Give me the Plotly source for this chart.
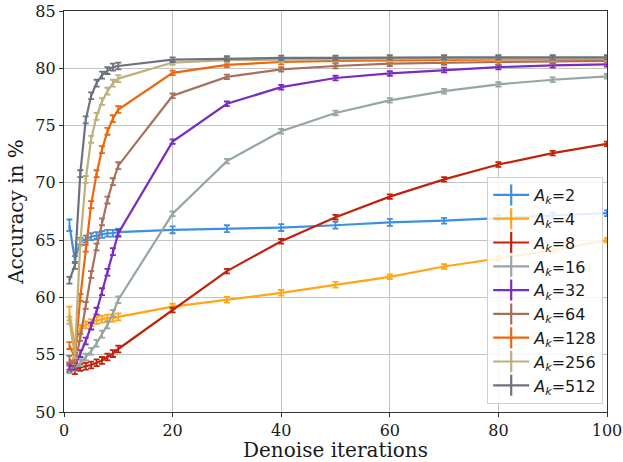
import plotly.graph_objects as go

iters = [1, 2, 3, 4, 5, 6, 7, 8, 9, 10, 20, 30, 40, 50, 60, 70, 80, 90, 100]

acc_2 = [66.3, 63.3, 64.9, 65.1, 65.3, 65.4, 65.5, 65.6, 65.6, 65.7, 65.9, 66.0, 66.1, 66.3, 66.55, 66.7, 66.95, 67.15, 67.35]
acc_4 = [58.6, 55.8, 57.3, 57.6, 57.8, 58.0, 58.1, 58.2, 58.2, 58.3, 59.2, 59.8, 60.4, 61.1, 61.8, 62.7, 63.4, 64.1, 65.0]
acc_8 = [53.8, 53.6, 53.9, 54.0, 54.1, 54.3, 54.5, 54.8, 55.1, 55.5, 58.9, 62.3, 64.9, 67.0, 68.8, 70.3, 71.6, 72.6, 73.4]
acc_16 = [53.7, 53.9, 54.3, 54.8, 55.3, 56.0, 56.8, 57.6, 58.6, 59.8, 67.3, 71.9, 74.5, 76.1, 77.2, 78.0, 78.6, 79.0, 79.3]
acc_32 = [54.0, 54.0, 55.1, 56.2, 57.5, 58.8, 60.5, 62.2, 64.0, 65.6, 73.6, 76.9, 78.35, 79.15, 79.55, 79.85, 80.1, 80.25, 80.35]
acc_64 = [54.6, 54.2, 56.5, 59.3, 62.0, 64.4, 66.6, 68.5, 70.1, 71.5, 77.6, 79.25, 79.9, 80.2, 80.4, 80.5, 80.55, 80.6, 80.65]
acc_128 = [55.8, 54.8, 60.0, 64.3, 68.1, 70.8, 72.9, 74.5, 75.6, 76.4, 79.6, 80.3, 80.55, 80.65, 80.7, 80.75, 80.75, 80.8, 80.8]
acc_256 = [58.0, 55.0, 64.8, 70.3, 73.8, 75.8, 77.1, 78.0, 78.7, 79.1, 80.5, 80.7, 80.75, 80.8, 80.8, 80.85, 80.85, 80.85, 80.85]
acc_512 = [61.5, 62.8, 70.8, 75.5, 77.6, 78.7, 79.4, 79.8, 80.1, 80.2, 80.75, 80.85, 80.9, 80.9, 80.95, 80.95, 80.95, 80.95, 80.95]

err_2 = [0.5, 0.3, 0.3, 0.3, 0.3, 0.3, 0.3, 0.3, 0.3, 0.3, 0.3, 0.3, 0.3, 0.3, 0.3, 0.25, 0.25, 0.25, 0.25]
err_4 = [0.6, 0.3, 0.3, 0.3, 0.3, 0.3, 0.3, 0.3, 0.3, 0.3, 0.25, 0.25, 0.25, 0.25, 0.2, 0.2, 0.2, 0.2, 0.2]
err_small = [0.3] * 10 + [0.2] * 9

k_values = [2, 4, 8, 16, 32, 64, 128, 256, 512]
series = [acc_2, acc_4, acc_8, acc_16, acc_32, acc_64, acc_128, acc_256, acc_512]
errors = [err_2, err_4, err_small, err_small, err_small, err_small, err_small, err_small, err_small]
colors = ["#3f8fdc", "#ffa516", "#c0220a", "#96a6a0", "#7c2bbf", "#a86f5c", "#ee660c", "#bdb07c", "#6e727f"]

fig = go.Figure()
for k, y, e, c in zip(k_values, series, errors, colors):
    fig.add_trace(go.Scatter(
        x=iters, y=y, mode="lines",
        line=dict(color=c, width=2.2),
        error_y=dict(type="data", array=e, visible=True, color=c, thickness=1.8, width=3),
        showlegend=False,
    ))
for k, c in zip(k_values, colors):
    fig.add_trace(go.Scatter(
        x=[None], y=[None], mode="lines+markers",
        line=dict(color=c, width=2.2),
        marker=dict(symbol="line-ns-open", size=15, color=c, line=dict(color=c, width=2.2)),
        name=f"<i>A</i><sub><i>k</i></sub>={k}",
    ))

axis_common = dict(
    showline=True, linecolor="#333333", linewidth=1.2, mirror=True,
    ticks="outside", ticklen=4, tickcolor="#333333",
    showgrid=True, gridcolor="#c4c4c4", gridwidth=1,
    zeroline=False, automargin=False,
    tickfont=dict(family="DejaVu Serif", size=16, color="#1a1a1a"),
)

fig.update_layout(
    width=623, height=462,
    margin=dict(l=64, r=16, t=11, b=50),
    plot_bgcolor="white", paper_bgcolor="white",
    xaxis=dict(range=[0, 100], tickvals=[0, 20, 40, 60, 80, 100],
               title=dict(text="Denoise iterations", font=dict(family="DejaVu Serif", size=20, color="#1a1a1a"), standoff=7),
               **axis_common),
    yaxis=dict(range=[50, 85], tickvals=[50, 55, 60, 65, 70, 75, 80, 85],
               title=dict(text="Accuracy in %", font=dict(family="DejaVu Serif", size=20, color="#1a1a1a"), standoff=6),
               **axis_common),
    legend=dict(
        x=0.993, y=0.02, xanchor="right", yanchor="bottom",
        bgcolor="rgba(255,255,255,0.85)", bordercolor="#d0d0d0", borderwidth=1,
        font=dict(family="DejaVu Sans", size=16, color="#1a1a1a"),
        tracegroupgap=0, itemwidth=36,
    ),
)

fig.write_html("out.html")
